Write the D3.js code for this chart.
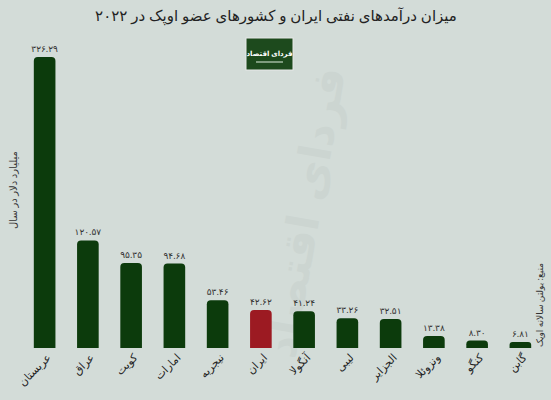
<!DOCTYPE html>
<html><head><meta charset="utf-8">
<script src="https://cdn.jsdelivr.net/npm/d3@7/dist/d3.min.js"></script>
<style>html,body{margin:0;padding:0;background:#d3dcd8;}svg{display:block;}</style>
</head><body><div id="c"></div>
<script>
const categories = ["عربستان","عراق","کویت","امارات","نیجریه","ایران","آنگولا","لیبی","الجزایر","ونزوئلا","کنگو","گابن"];
const values = [326.29,120.57,95.35,94.68,53.46,42.62,41.24,33.26,32.51,13.38,8.30,6.81];
const highlight = ["ایران"];
const W=551,H=400;
const font="'Noto Sans', 'DejaVu Sans', sans-serif";
const fa = s => s.replace(/[0-9]/g, d => "۰۱۲۳۴۵۶۷۸۹"[d]);
const svg=d3.select("#c").append("svg").attr("width",W).attr("height",H);
svg.append("rect").attr("width",W).attr("height",H).attr("fill","#d3dcd8");
// watermark
svg.append("text").attr("x",320).attr("y",215).attr("text-anchor","middle")
  .attr("transform","rotate(-80,320,215)")
  .attr("font-family","'DejaVu Sans', sans-serif").attr("font-size",44).attr("font-weight","bold")
  .attr("fill","#ccd5d1").text("فردای اقتصاد");
const x=d3.scaleBand().domain(categories).range([23,542]).paddingInner(0.5).paddingOuter(0.25);
const y=d3.scaleLinear().domain([0,326.29]).range([348,57]);
// title
svg.append("text").attr("x",276).attr("y",21).attr("text-anchor","middle")
  .attr("font-family",font).attr("font-size",15).attr("fill","#222").attr("direction","rtl")
  .text("میزان درآمدهای نفتی ایران و کشورهای عضو اوپک در ۲۰۲۲");
// logo
svg.append("rect").attr("x",246).attr("y",38).attr("width",47).attr("height",32).attr("fill","#1d4a1d").attr("stroke","#e8e8e8").attr("stroke-width",1);
svg.append("text").attr("x",269.5).attr("y",56).attr("text-anchor","middle").attr("font-family",font)
  .attr("font-size",7).attr("font-weight","bold").attr("fill","#fff").text("فردای اقتصاد");
svg.append("line").attr("x1",256).attr("x2",283).attr("y1",62).attr("y2",62).attr("stroke","#9fb89f").attr("stroke-width",1.5);
// bars
const r=4;
function barPath(x0,y0,w,h){
  const rr=Math.min(r,h/2,w/2);
  return `M${x0},${y0+h}V${y0+rr}Q${x0},${y0} ${x0+rr},${y0}H${x0+w-rr}Q${x0+w},${y0} ${x0+w},${y0+rr}V${y0+h}Z`;
}
svg.append("g").selectAll("path").data(categories).join("path")
  .attr("d",(d,i)=>barPath(x(d),y(values[i]),x.bandwidth(),y(0)-y(values[i])))
  .attr("fill",d=>highlight.includes(d)?"#9c1a22":"#0c3b0c");
svg.append("g").selectAll("text").data(categories).join("text")
  .attr("x",d=>x(d)+x.bandwidth()/2).attr("y",(d,i)=>y(values[i])-5)
  .attr("text-anchor","middle").attr("font-family",font).attr("font-size",9).attr("fill","#333")
  .text((d,i)=>fa(values[i].toFixed(2)));
// x axis labels
const xa=d3.axisBottom(x).tickSize(0).tickPadding(0);
const gx=svg.append("g").attr("transform","translate(0,356)").call(xa);
gx.select(".domain").remove();
gx.selectAll("text").attr("font-family",font).attr("font-size",11).attr("fill","#222")
  .attr("text-anchor","end").attr("dy","0.6em").attr("dx","0.3em")
  .attr("transform","rotate(-45)");
// y label
svg.append("text").attr("transform","translate(17,190) rotate(-90)").attr("text-anchor","middle")
  .attr("font-family",font).attr("font-size",10).attr("fill","#333").text("میلیارد دلار در سال");
// source
svg.append("text").attr("transform","translate(543,305) rotate(-90)").attr("text-anchor","middle")
  .attr("font-family",font).attr("font-size",9).attr("fill","#333").text("منبع: بولتن سالانه اوپک");
</script></body></html>
